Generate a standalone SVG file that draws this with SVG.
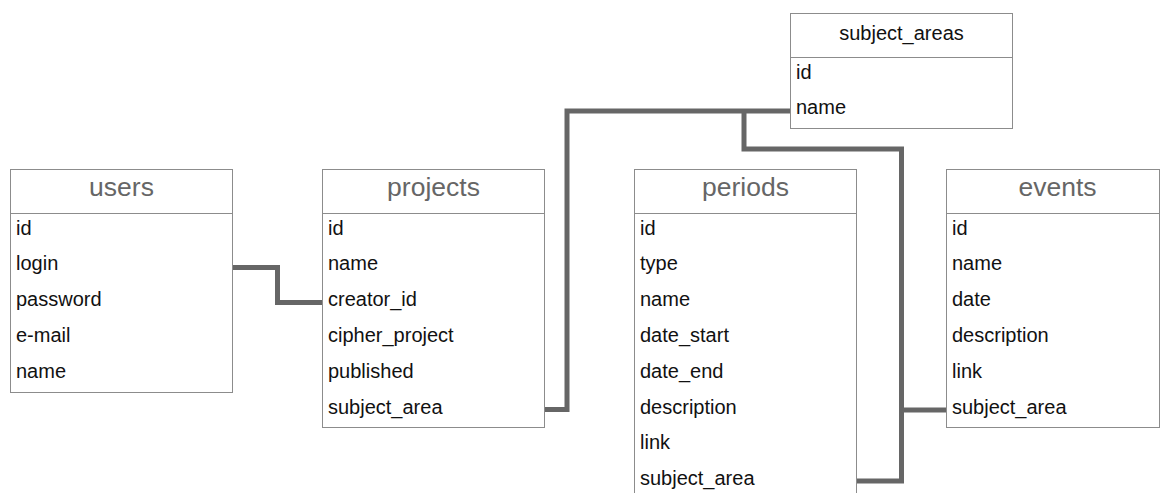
<svg xmlns="http://www.w3.org/2000/svg" width="1160" height="493" viewBox="0 0 1160 493">
  <style>
    .box { fill: #ffffff; stroke: #8c8c8c; stroke-width: 1; }
    .sep { stroke: #8c8c8c; stroke-width: 1; }
    .title { font-family: "Liberation Sans", Arial, sans-serif; font-size: 26.5px; fill: #666666; text-anchor: middle; }
    .title-sm { font-family: "Liberation Sans", Arial, sans-serif; font-size: 20px; fill: #111111; text-anchor: middle; }
    .field { font-family: "Liberation Sans", Arial, sans-serif; font-size: 20px; fill: #111111; }
    .link { fill: none; stroke: #666666; stroke-width: 5; stroke-linejoin: miter; stroke-linecap: butt; }
  </style>
  <rect width="1160" height="493" fill="#ffffff"/>

  <!-- relations -->
  <g id="connectors">
    <path class="link" d="M233 267.5 H277.5 V302.5 H322"/>
    <path class="link" d="M545 409.5 H567 V111 H790"/>
    <path class="link" d="M744 111 V149 H901.5 V481 H857"/>
    <path class="link" d="M901.5 410 H946"/>
  </g>

  <!-- users -->
  <g id="users">
    <rect class="box" x="10.5" y="169.5" width="222" height="223"/>
    <line class="sep" x1="10.5" y1="213.5" x2="232.5" y2="213.5"/>
    <text class="title" x="121.5" y="196">users</text>
    <text class="field" x="16" y="234.5">id</text>
    <text class="field" x="16" y="270.3">login</text>
    <text class="field" x="16" y="306.1">password</text>
    <text class="field" x="16" y="341.9">e-mail</text>
    <text class="field" x="16" y="377.7">name</text>
  </g>

  <!-- projects -->
  <g id="projects">
    <rect class="box" x="322.5" y="169.5" width="222" height="258"/>
    <line class="sep" x1="322.5" y1="213.5" x2="544.5" y2="213.5"/>
    <text class="title" x="433.5" y="196">projects</text>
    <text class="field" x="328" y="234.5">id</text>
    <text class="field" x="328" y="270.3">name</text>
    <text class="field" x="328" y="306.1">creator_id</text>
    <text class="field" x="328" y="341.9">cipher_project</text>
    <text class="field" x="328" y="377.7">published</text>
    <text class="field" x="328" y="413.5">subject_area</text>
  </g>

  <!-- periods -->
  <g id="periods">
    <rect class="box" x="634.5" y="169.5" width="222" height="340"/>
    <line class="sep" x1="634.5" y1="213.5" x2="856.5" y2="213.5"/>
    <text class="title" x="745.5" y="196">periods</text>
    <text class="field" x="640" y="234.5">id</text>
    <text class="field" x="640" y="270.3">type</text>
    <text class="field" x="640" y="306.1">name</text>
    <text class="field" x="640" y="341.9">date_start</text>
    <text class="field" x="640" y="377.7">date_end</text>
    <text class="field" x="640" y="413.5">description</text>
    <text class="field" x="640" y="449.3">link</text>
    <text class="field" x="640" y="485.1">subject_area</text>
  </g>

  <!-- events -->
  <g id="events">
    <rect class="box" x="946.5" y="169.5" width="213" height="258"/>
    <line class="sep" x1="946.5" y1="213.5" x2="1159.5" y2="213.5"/>
    <text class="title" x="1057.5" y="196">events</text>
    <text class="field" x="952" y="234.5">id</text>
    <text class="field" x="952" y="270.3">name</text>
    <text class="field" x="952" y="306.1">date</text>
    <text class="field" x="952" y="341.9">description</text>
    <text class="field" x="952" y="377.7">link</text>
    <text class="field" x="952" y="413.5">subject_area</text>
  </g>

  <!-- subject_areas -->
  <g id="subject_areas">
    <rect class="box" x="790.5" y="13.5" width="222" height="115"/>
    <line class="sep" x1="790.5" y1="57.5" x2="1012.5" y2="57.5"/>
    <text class="title-sm" x="901.5" y="39.5">subject_areas</text>
    <text class="field" x="796" y="78.5">id</text>
    <text class="field" x="796" y="114.3">name</text>
  </g>
</svg>
